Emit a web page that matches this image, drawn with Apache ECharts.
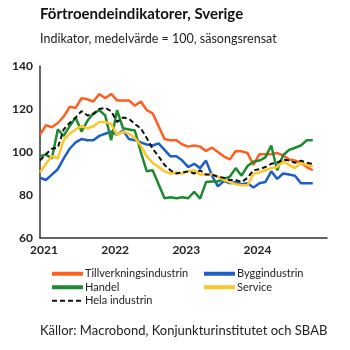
<!DOCTYPE html>
<html lang="sv">
<head>
    <meta charset="UTF-8">
    <title>Förtroendeindikatorer</title>
    <style>
        html, body {
            margin: 0;
            padding: 0;
            background: #fff;
        }
        #chart {
            width: 350px;
            height: 350px;
        }
    </style>
</head>
<body>
<div id="chart"></div>
<script src="https://cdn.jsdelivr.net/npm/echarts/dist/echarts.min.js"></script>
<script>
    // månadsdata jan 2021 - nov 2024
    const yearLabels = ['2021', '2022', '2023', '2024'];
    const tillverkning = [108, 112.5, 111.5, 113.5, 116.5, 121, 120.5, 125, 124.5, 123.5, 127, 125,
        127, 124, 124, 124, 121.5, 123.5, 119.5, 118, 112, 106, 105.5, 105.5,
        103.5, 102.5, 103, 102.5, 100.5, 102, 100, 98, 96.5, 100.5, 100.3, 99.5,
        94, 99, 99, 99, 99.5, 98.5, 96.5, 96, 95, 93, 91.5];
    const bygg = [88, 87, 89.5, 92, 97, 101.5, 104.5, 106, 105.5, 105.5, 107.5, 108.5,
        109.5, 108, 110, 106, 105.5, 104.5, 103.5, 103, 104, 101, 98, 98,
        96, 93, 94.5, 92.5, 96, 89, 84, 86.5, 85.5, 86, 85, 85.5,
        83.5, 85.5, 86, 91, 87.5, 90, 89.5, 89, 85.5, 85.5, 85.5];
    const handel = [98, 98.8, 97, 110.5, 107.5, 112, 116, 109.5, 114.5, 118, 119.5, 117,
        105.5, 119.5, 111, 110.5, 110, 100, 91, 91.5, 85, 78.5, 79, 78.5,
        79, 78.5, 81.5, 78.3, 86, 86.3, 86.3, 87.5, 88.5, 92.5, 89, 93.5,
        95.5, 96, 97.5, 103, 91.5, 98.5, 101, 102, 103, 105.5, 105.5];
    const service = [90.5, 94.5, 98, 97, 105.5, 108.5, 110.5, 112, 111, 112, 114, 114,
        113, 108, 109.5, 108.5, 106.5, 103, 98, 95, 93, 91, 90, 90.5,
        90, 91, 91.5, 89.5, 89.5, 89.5, 88.5, 87, 86, 85, 84.5, 84.5,
        90, 90.5, 91.5, 92.5, 93, 95.5, 94, 92.5, 95, 94, 93.5];
    const hela = [96, 99, 101.5, 102, 110.5, 113.5, 116, 119, 117, 117.5, 120, 120.5,
        119, 114, 116, 115.5, 113, 111, 106.5, 101.5, 98, 94, 91.5, 90,
        90.5, 91, 90, 91.5, 89.5, 89.5, 88.5, 88, 87, 87, 86, 88,
        91.5, 92, 93, 94.5, 95, 96.5, 96, 95, 96, 95, 94.5];

    const font = 'Lato';

    function toPoints(arr) {
        return arr.map((v, i) => [i, v]);
    }

    function lineSeries(name, data, color, dashed) {
        return {
            name: name,
            type: 'line',
            data: toPoints(data),
            symbol: 'none',
            color: color,
            lineStyle: {
                color: color,
                width: dashed ? 2 : 2.5,
                type: dashed ? [5, 3] : 'solid'
            }
        };
    }

    // gemensam stil för de två legendkolumnerna
    function legendCol(names, left) {
        return {
            data: names,
            orient: 'vertical',
            left: left,
            top: 267,
            padding: 0,
            itemWidth: 31,
            itemHeight: 8,
            itemGap: 0,
            itemStyle: {opacity: 0},
            lineStyle: {width: 4},
            textStyle: {fontFamily: font, fontSize: 11, lineHeight: 13.5, color: '#222', padding: [0, 0, 0, -3]}
        };
    }

    let myChart = echarts.init(document.getElementById('chart'));
    let option = {
        animation: false,
        title: [
            {
                text: 'Förtroendeindikatorer, Sverige',
                left: 40,
                top: 7,
                padding: 0,
                textStyle: {fontFamily: font, fontSize: 15, fontWeight: 'bold', color: '#111'}
            },
            {
                text: 'Indikator, medelvärde = 100, säsongsrensat',
                left: 40,
                top: 32,
                padding: 0,
                textStyle: {fontFamily: font, fontSize: 12.5, fontWeight: 'normal', color: '#222'}
            },
            {
                text: 'Källor: Macrobond, Konjunkturinstitutet och SBAB',
                left: 40,
                top: 324,
                padding: 0,
                textStyle: {fontFamily: font, fontSize: 13, fontWeight: 'normal', color: '#222'}
            }
        ],
        legend: [
            legendCol(['Tillverkningsindustrin', 'Handel', {name: 'Hela industrin', lineStyle: {width: 2}}], 50),
            legendCol(['Byggindustrin', 'Service'], 202)
        ],
        grid: {
            left: 40,
            top: 66,
            right: 23,
            bottom: 112,
            containLabel: false
        },
        xAxis: {
            type: 'value',
            min: 0,
            max: 48.4,
            interval: 12,
            splitLine: {show: false},
            axisTick: {show: false},
            axisLine: {show: true, lineStyle: {color: '#333', width: 1.5}},
            axisLabel: {
                fontFamily: font,
                fontSize: 12,
                fontWeight: 'bold',
                color: '#222',
                margin: 6,
                padding: [0, 0, 0, 8],
                formatter: function (v) {
                    return yearLabels[v / 12] || '';
                }
            }
        },
        yAxis: {
            type: 'value',
            min: 60,
            max: 140,
            interval: 20,
            splitLine: {show: false},
            axisTick: {show: false},
            axisLine: {show: true, lineStyle: {color: '#333', width: 1.5}},
            axisLabel: {
                fontFamily: font,
                fontSize: 12,
                fontWeight: 'bold',
                color: '#222',
                margin: 7
            }
        },
        series: [
            lineSeries('Tillverkningsindustrin', tillverkning, '#FF5F1F', false),
            lineSeries('Byggindustrin', bygg, '#1C5FC7', false),
            lineSeries('Handel', handel, '#1E8A30', false),
            lineSeries('Service', service, '#FFC629', false),
            lineSeries('Hela industrin', hela, '#111111', true)
        ]
    };
    myChart.setOption(option);
</script>
</body>
</html>
